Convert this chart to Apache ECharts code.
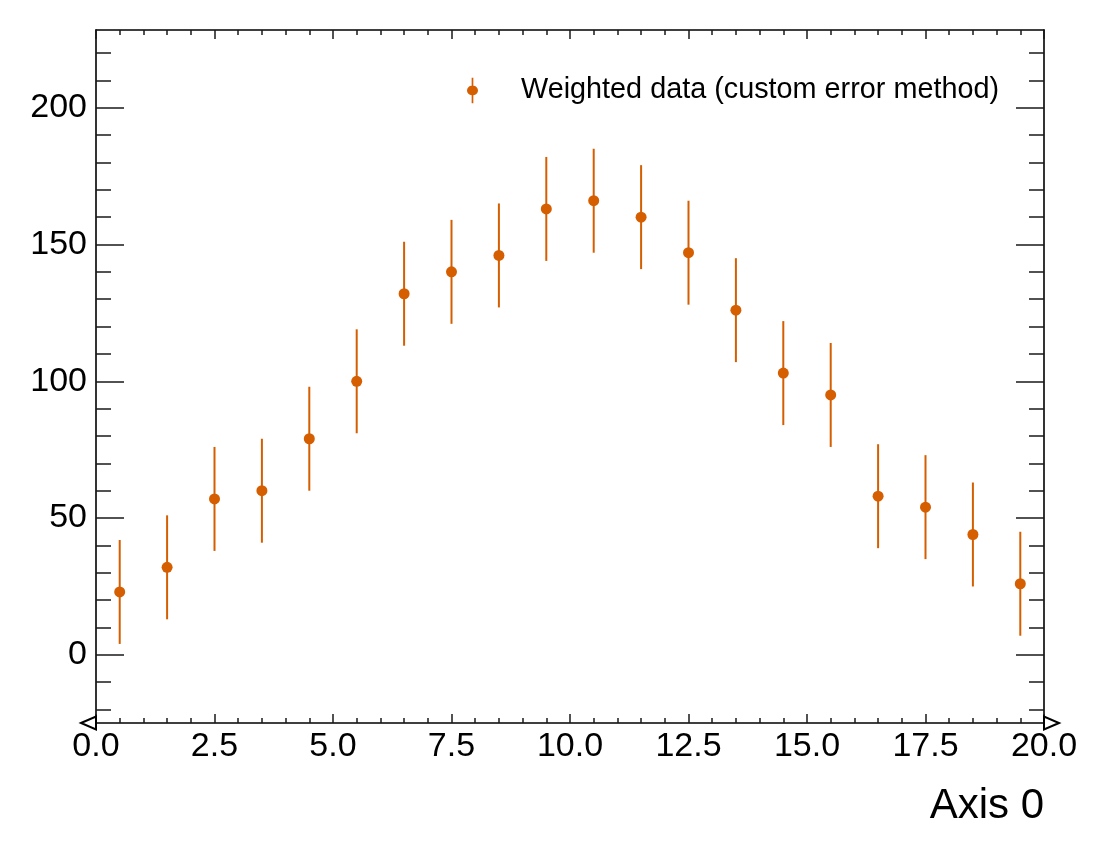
<!DOCTYPE html>
<html>
<head>
<meta charset="utf-8">
<script src="https://cdn.jsdelivr.net/npm/echarts@6/dist/echarts.min.js"></script>
<style>
html, body { margin: 0; padding: 0; background: #fff; }
#chart { width: 1108px; height: 858px; }
</style>
</head>
<body>
<div id="chart"></div>
<script>
// bin centres and weighted counts
const binCenters = [0.5, 1.5, 2.5, 3.5, 4.5, 5.5, 6.5, 7.5, 8.5, 9.5, 10.5, 11.5, 12.5, 13.5, 14.5, 15.5, 16.5, 17.5, 18.5, 19.5];
const counts = [23, 32, 57, 60, 79, 100, 132, 140, 146, 163, 166, 160, 147, 126, 103, 95, 58, 54, 44, 26];
const errors = [19, 19, 19, 19, 19, 19, 19, 19, 19, 19, 19, 19, 19, 19, 19, 19, 19, 19, 19, 19];

const yMajorTicks = [0, 50, 100, 150, 200];
const yMinorTicks = [-20, -10, 10, 20, 30, 40, 60, 70, 80, 90, 110, 120, 130, 140, 160, 170, 180, 190, 210, 220];
const seriesName = "Weighted data (custom error method)";
const xName = "Axis 0";

const color = "#d55e00";
const font = "'Liberation Sans', Arial, Helvetica, sans-serif";
const yMin = -24.9;
const yMax = 228.4;

const chart = echarts.init(document.getElementById("chart"));

const frameLine = { show: true, onZero: false, lineStyle: { color: "#000", width: 1.6 } };
const tickStyle = { color: "#1a1a1a", width: 1.5 };

function yAxisDef(position, values, len, showLine, showLabel) {
	return {
		type: "value",
		position: position,
		min: yMin,
		max: yMax,
		axisLine: showLine ? frameLine : { show: false, onZero: false },
		splitLine: { show: false },
		axisTick: {
			show: true,
			inside: true,
			length: len,
			customValues: values,
			lineStyle: tickStyle
		},
		axisLabel: showLabel
			? {
					show: true,
					customValues: yMajorTicks,
					margin: 9,
					padding: [9, 0, 0, 0],
					color: "#000",
					fontSize: 34,
					fontFamily: font
			  }
			: { show: false }
	};
}

const data = binCenters.map((x, i) => [x, counts[i], errors[i]]);

const option = {
	animation: false,
	backgroundColor: "#fff",
	grid: { left: 96, right: 64, top: 30, bottom: 135 },
	title: {
		text: xName,
		right: 64,
		top: 785,
		padding: 0,
		textStyle: { color: "#000", fontSize: 42, fontWeight: "normal", fontFamily: font }
	},
	legend: {
		left: 462,
		top: 71,
		itemWidth: 11,
		itemHeight: 30,
		data: [
			{
				name: seriesName,
				icon: "path://M4.5,0 H6.5 V9.5 A5.5,5.5 0 0 1 6.5,20.5 V30 H4.5 V20.5 A5.5,5.5 0 0 1 4.5,9.5 Z"
			}
		],
		textStyle: { color: "#000", fontSize: 28.8, fontFamily: font, padding: [0, 0, 0, 38] }
	},
	xAxis: [
		{
			type: "value",
			position: "bottom",
			min: 0,
			max: 20,
			interval: 2.5,
			axisLine: {
				show: true,
				onZero: false,
				lineStyle: { color: "#000", width: 1.6 },
				symbol: ["emptyTriangle", "emptyTriangle"],
				symbolSize: [13, 15],
				symbolOffset: [-7.5, 7.5]
			},
			splitLine: { show: false },
			axisTick: { show: true, inside: true, length: 9, lineStyle: tickStyle },
			minorTick: { show: true, splitNumber: 5, length: 5, lineStyle: tickStyle },
			axisLabel: {
				margin: 7,
				color: "#000",
				fontSize: 34,
				fontFamily: font,
				formatter: v => v.toFixed(1)
			}
		},
		{
			type: "value",
			position: "top",
			min: 0,
			max: 20,
			interval: 2.5,
			axisLine: frameLine,
			splitLine: { show: false },
			axisTick: { show: true, inside: true, length: 9, lineStyle: tickStyle },
			minorTick: { show: true, splitNumber: 5, length: 5, lineStyle: tickStyle },
			axisLabel: { show: false }
		}
	],
	yAxis: [
		yAxisDef("left", yMajorTicks, 28, true, true),
		yAxisDef("left", yMinorTicks, 15, false, false),
		yAxisDef("right", yMajorTicks, 28, true, false),
		yAxisDef("right", yMinorTicks, 15, false, false)
	],
	series: [
		{
			name: seriesName,
			type: "custom",
			xAxisIndex: 0,
			yAxisIndex: 0,
			itemStyle: { color: color },
			encode: { x: 0, y: 1 },
			data: data,
			renderItem: function (params, api) {
				const x = api.value(0);
				const y = api.value(1);
				const e = api.value(2);
				const hi = api.coord([x, y + e]);
				const lo = api.coord([x, y - e]);
				const c = api.coord([x, y]);
				return {
					type: "group",
					children: [
						{
							type: "line",
							shape: { x1: hi[0], y1: hi[1], x2: lo[0], y2: lo[1] },
							style: { stroke: color, lineWidth: 2 }
						},
						{
							type: "circle",
							shape: { cx: c[0], cy: c[1], r: 5.5 },
							style: { fill: color }
						}
					]
				};
			}
		}
	]
};

chart.setOption(option);
</script>
</body>
</html>
